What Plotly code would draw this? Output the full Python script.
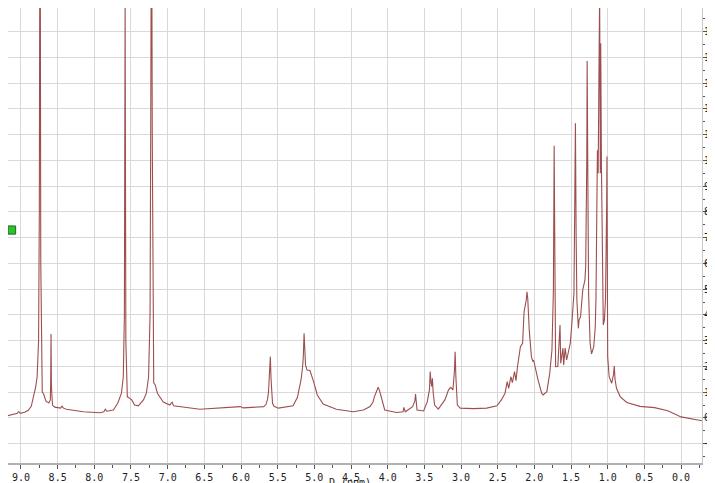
import plotly.graph_objects as go

# chemical shift (ppm) and intensity
ppm = [
    9.18, 9.10, 9.05, 9.03, 9.01, 8.95, 8.90, 8.86, 8.84, 8.80, 8.78, 8.77, 8.76, 8.75, 8.74,
    8.73, 8.72, 8.71, 8.69, 8.66, 8.62, 8.60, 8.595, 8.59, 8.585, 8.58, 8.57, 8.54, 8.46, 8.44, 8.42,
    8.38, 8.15, 7.92, 7.87, 7.85, 7.83, 7.74, 7.68, 7.63, 7.605, 7.59, 7.58, 7.57, 7.56,
    7.55, 7.52, 7.49, 7.45, 7.40, 7.33, 7.29, 7.26, 7.24, 7.23, 7.22, 7.21, 7.20, 7.19,
    7.17, 7.14, 7.06, 6.97, 6.94, 6.92, 6.56, 6.33, 6.01, 5.97, 5.69, 5.66, 5.64, 5.625, 5.61, 5.60,
    5.59, 5.58, 5.57, 5.55, 5.49, 5.29, 5.23, 5.21, 5.18, 5.16, 5.15, 5.14, 5.13, 5.12, 5.10, 5.06, 5.01, 4.96, 4.88, 4.70,
    4.47, 4.33, 4.24, 4.20, 4.18, 4.15, 4.13, 4.11, 4.08, 4.06, 4.04, 3.88, 3.79, 3.78, 3.76, 3.66, 3.63, 3.62, 3.61, 3.60,
    3.51, 3.46, 3.43, 3.42, 3.41, 3.40, 3.39, 3.38, 3.36, 3.31, 3.22, 3.17, 3.14, 3.11, 3.09, 3.08, 3.07, 3.06,
    3.05, 3.01, 2.83, 2.65, 2.51, 2.45, 2.40, 2.37, 2.35, 2.32, 2.30, 2.27, 2.25, 2.23,
    2.21, 2.19, 2.16, 2.14, 2.11, 2.10, 2.09, 2.07, 2.04, 2.02, 2.01, 1.98, 1.95, 1.90,
    1.88, 1.83, 1.79, 1.76, 1.74, 1.73, 1.72, 1.71, 1.68, 1.65, 1.64, 1.61, 1.60, 1.58,
    1.56, 1.54, 1.51, 1.49, 1.46, 1.45, 1.44, 1.43, 1.42, 1.40, 1.39, 1.37, 1.34, 1.31,
    1.30, 1.285, 1.28, 1.27, 1.26, 1.24, 1.22, 1.19, 1.17, 1.16, 1.15, 1.14, 1.13, 1.12,
    1.11, 1.10, 1.095, 1.085, 1.07, 1.06, 1.045, 1.03, 1.015, 1.01, 1.00, 0.98, 0.945, 0.92, 0.91, 0.90,
    0.88, 0.83, 0.74, 0.56, 0.36, 0.18, 0.00, -0.15, -0.29,
]
intensity = [
    0.9, 1.6, 1.8, 2.5, 1.8, 2.2, 3.0, 4.5, 7, 12, 16, 22, 30, 80, 230,
    60, 14, 10, 9.2, 6.5, 5.8, 7, 14, 32.6, 12, 7, 5, 4.2, 3.8, 4.6, 3.8,
    3.4, 2.4, 2.0, 2.4, 3.4, 2.6, 3.1, 5.8, 9.6, 16, 40, 160.8, 30, 10,
    8.2, 7.7, 7, 5, 4.7, 7, 9.6, 16, 40, 120, 220, 110, 25, 13.6,
    12.8, 9.6, 6.2, 5, 6.2, 4.7, 3.4, 3.8, 4.4, 3.9, 4.4, 5.2, 7, 10, 17, 23.8,
    15, 8.5, 5.7, 4.5, 3.8, 4.7, 8, 10.9, 15, 19.9, 24, 32.9, 24, 20.6, 18.6, 18.4, 14.1, 8.9, 5.4, 3.4,
    2.4, 3.1, 4.4, 6.2, 8.3, 11, 11.9, 10.5, 7, 4.5, 3.1, 2.1, 2.4, 4.1, 2.4, 4.4, 6.5, 9.3, 6, 3.1,
    2.7, 6.3, 11, 18.0, 14, 12.2, 15.4, 10, 5, 3.4, 7, 10.9, 11.9, 10.9, 18, 25.7, 16, 9,
    5, 3.8, 3.6, 3.8, 4.7, 7, 9.6, 14.1, 11.5, 16.0, 13.7, 18.0, 14.5, 19.9,
    24.5, 27.7, 29, 41.3, 45.8, 49, 46.5, 34.2, 23.8, 21.9, 22.5, 18.6, 14.8, 9.6,
    8.9, 10.2, 17.4, 26.4, 50, 105.7, 40, 19.9, 20, 36.1, 21.2, 27.1, 20.6, 27.1,
    22.5, 25.7, 29, 36.1, 48.4, 80, 114.4, 70, 45.8, 34.8, 38.1, 39.3, 49.7, 53.6,
    58.8, 100, 138.6, 90, 48.4, 29, 24.9, 27.7, 35, 45.8, 92.4, 104, 95, 130,
    165, 95, 145.5, 97.6, 39.3, 36.1, 38, 45.8, 80, 101.5, 23.8, 16, 13.5, 17, 20.2, 15,
    11.5, 8.3, 6, 4.5, 4.0, 2.8, 0.4, -0.5, -1.1,
]

x_ticks = [9.0, 8.5, 8.0, 7.5, 7.0, 6.5, 6.0, 5.5, 5.0, 4.5, 4.0, 3.5, 3.0, 2.5, 2.0, 1.5, 1.0, 0.5, 0.0]
x_labels = ["%.1f" % v for v in x_ticks]

fig = go.Figure(
    data=[
        go.Scatter(
            x=ppm,
            y=intensity,
            mode="lines",
            line=dict(color="#9e4e4e", width=1.1),
            hoverinfo="skip",
        )
    ]
)

tick_font = dict(family="DejaVu Sans Mono", size=10, color="#222222")

# the page body adds an 8px margin; the figure runs a little past the
# window on the right so the y tick labels get cut like in the original
fig.update_layout(
    width=720,
    height=475,
    margin=dict(l=0, r=26, t=0, b=20),
    paper_bgcolor="white",
    plot_bgcolor="white",
    showlegend=False,
    xaxis=dict(
        range=[9.177, -0.286],
        automargin=False,
        tickvals=x_ticks,
        ticktext=x_labels,
        ticks="outside",
        ticklen=4,
        tickcolor="#555555",
        tickfont=tick_font,
        showgrid=True,
        gridcolor="#d9d9d9",
        gridwidth=1,
        zeroline=False,
        showline=True,
        linecolor="#b0b0b0",
        linewidth=2,
        minor=dict(dtick=0.25, ticks="outside", ticklen=3, tickcolor="#555555", showgrid=False),
    ),
    yaxis=dict(
        side="right",
        automargin=False,
        range=[-17.5, 159.2],
        dtick=10,
        ticks="outside",
        ticklen=4,
        tickcolor="#555555",
        tickfont=tick_font,
        ticklabeloverflow="allow",
        ticklabelstandoff=-5,
        showgrid=True,
        gridcolor="#d9d9d9",
        gridwidth=1,
        zeroline=False,
        showline=True,
        mirror=True,
        linecolor="#c8c8c8",
        linewidth=1,
        minor=dict(dtick=5, ticks="outside", ticklen=2, tickcolor="#555555", showgrid=False),
    ),
)

# axis title, sits low and partly cut by the window edge
fig.add_annotation(
    text="D (ppm)",
    xref="paper",
    yref="paper",
    x=0.493,
    y=-0.026,
    yanchor="top",
    showarrow=False,
    font=dict(family="DejaVu Sans Mono", size=10, color="#222222"),
)

# green cursor marker on the left edge
fig.add_shape(
    type="rect",
    xref="paper",
    yref="paper",
    x0=0.0,
    x1=0.011,
    y0=0.503,
    y1=0.521,
    fillcolor="#2fc02f",
    line=dict(color="#1a6e1a", width=1),
)

fig.write_html("out.html")
